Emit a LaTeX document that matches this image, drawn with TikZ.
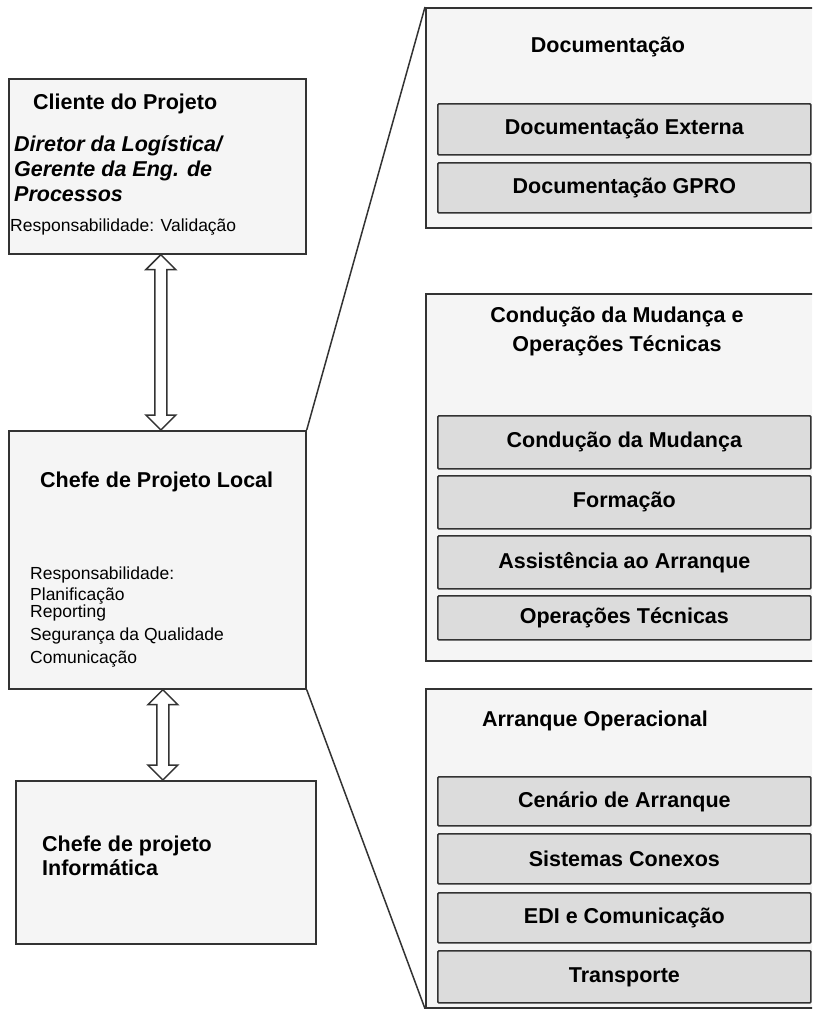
\documentclass[tikz,border=0pt]{standalone}
\usepackage{fontspec}
\setmainfont{Liberation Sans}
\usetikzlibrary{calc}
\definecolor{linegray}{HTML}{333333}
\definecolor{boxwhite}{HTML}{F5F5F5}
\definecolor{itemgray}{HTML}{DCDCDC}
\begin{document}
\begin{tikzpicture}[x=1pt,y=-1pt,
  frame/.style={draw=linegray, line width=1.7pt, fill=boxwhite, inner sep=0pt, anchor=north west},
  item/.style={draw=linegray, line width=1.7pt, fill=itemgray, rounded corners=1pt, inner sep=0pt,
    anchor=north west, minimum width=373pt, font=\bfseries\fontsize{21.5}{25}\selectfont},
  ttl/.style={inner sep=0pt, text height=0.72em, text depth=0pt, font=\bfseries\fontsize{21.5}{25}\selectfont},
  ittl/.style={inner sep=0pt, text height=0.72em, text depth=0pt, anchor=west, font=\bfseries\itshape\fontsize{21.5}{25}\selectfont},
  plain/.style={inner sep=0pt, text height=0.72em, text depth=0pt, anchor=west, font=\fontsize{17.5}{20}\selectfont},
  blockarrow/.style={draw=linegray, line width=1.5pt, fill=white, line join=miter},
  link/.style={draw=linegray, line width=1.5pt}]
\clip (0,0) rectangle (812,1009);
\fill[white] (0,0) rectangle (812,1009);

% left column: client, local project lead, IT project lead
\node[frame, minimum width=297pt, minimum height=175pt] (cli) at (8,78) {};
\node[ttl, anchor=west] (cliT) at (33,106) {Cliente do Projeto};
\node[ittl] (cliA) at (14,148) {Diretor da Logística/};
\node[ittl] (cliB) at (14,173) {Gerente da Eng. de};
\node[ittl] (cliC) at (14,198) {Processos};
\node[plain] (cliR) at (10,228) {Responsabilidade: Validação};

\node[frame, minimum width=297pt, minimum height=258pt] (chef) at (8,430) {};
\node[ttl, anchor=west] (chefT) at (40,484) {Chefe de Projeto Local};
\node[plain] (chefR) at (30,576) {Responsabilidade:};
\node[plain] (chefA) at (30,597) {Planificação};
\node[plain] (chefB) at (30,614) {Reporting};
\node[plain] (chefC) at (30,637) {Segurança da Qualidade};
\node[plain] (chefD) at (30,660) {Comunicação};

\node[frame, minimum width=300pt, minimum height=163pt] (inf) at (15,780) {};
\node[ttl, anchor=west] (infA) at (42,848) {Chefe de projeto};
\node[ttl, anchor=west] (infB) at (42,872) {Informática};

% double-headed block arrows between the left boxes
\draw[blockarrow] let \p1=($(cli.south)+(3.5,0)$), \p2=($(chef.north)+(3.5,0)$) in
  (\p1) -- (\x1+15pt,\y1-15pt) -- (\x1+6pt,\y1-15pt) -- (\x1+6pt,\y2+15pt) -- (\x1+15pt,\y2+15pt)
  -- (\x1,\y2) -- (\x1-15pt,\y2+15pt) -- (\x1-6pt,\y2+15pt) -- (\x1-6pt,\y1-15pt)
  -- (\x1-15pt,\y1-15pt) -- cycle;
\draw[blockarrow] let \p1=($(chef.south)+(5.5,0)$), \p2=($(inf.north)+(-3,0)$) in
  (\p1) -- (\x1+15pt,\y1-15pt) -- (\x1+6pt,\y1-15pt) -- (\x1+6pt,\y2+15pt) -- (\x1+15pt,\y2+15pt)
  -- (\x1,\y2) -- (\x1-15pt,\y2+15pt) -- (\x1-6pt,\y2+15pt) -- (\x1-6pt,\y1-15pt)
  -- (\x1-15pt,\y1-15pt) -- cycle;

% right column: work packages
\node[frame, minimum width=400pt, minimum height=220pt] (doc) at (425,7) {};
\node[ttl] (docT) at (608,49) {Documentação};
\node[item, minimum height=51pt] (docA) at (437,103) {Documentação Externa};
\node[item, minimum height=50pt] (docB) at (437,162) {Documentação GPRO};

\node[frame, minimum width=400pt, minimum height=367pt] (cond) at (425,293) {};
\node[ttl] (condT1) at (617,319) {Condução da Mudança e};
\node[ttl] (condT2) at (617,348) {Operações Técnicas};
\node[item, minimum height=53pt] (condA) at (437,415) {Condução da Mudança};
\node[item, minimum height=53pt] (condB) at (437,475) {Formação};
\node[item, minimum height=53pt] (condC) at (437,535) {Assistência ao Arranque};
\node[item, minimum height=44pt] (condD) at (437,595) {Operações Técnicas};

\node[frame, minimum width=400pt, minimum height=319pt] (arr) at (425,688) {};
\node[ttl] (arrT) at (595,723) {Arranque Operacional};
\node[item, minimum height=49pt] (arrA) at (437,776) {Cenário de Arranque};
\node[item, minimum height=50pt] (arrB) at (437,833) {Sistemas Conexos};
\node[item, minimum height=50pt] (arrC) at (437,892) {EDI e Comunicação};
\node[item, minimum height=52pt] (arrD) at (437,950) {Transporte};

% lines fanning from the local project lead to the work packages
\draw[link] (chef.north east) -- (doc.north west);
\draw[link] (chef.south east) -- (arr.south west);
\end{tikzpicture}
\end{document}
